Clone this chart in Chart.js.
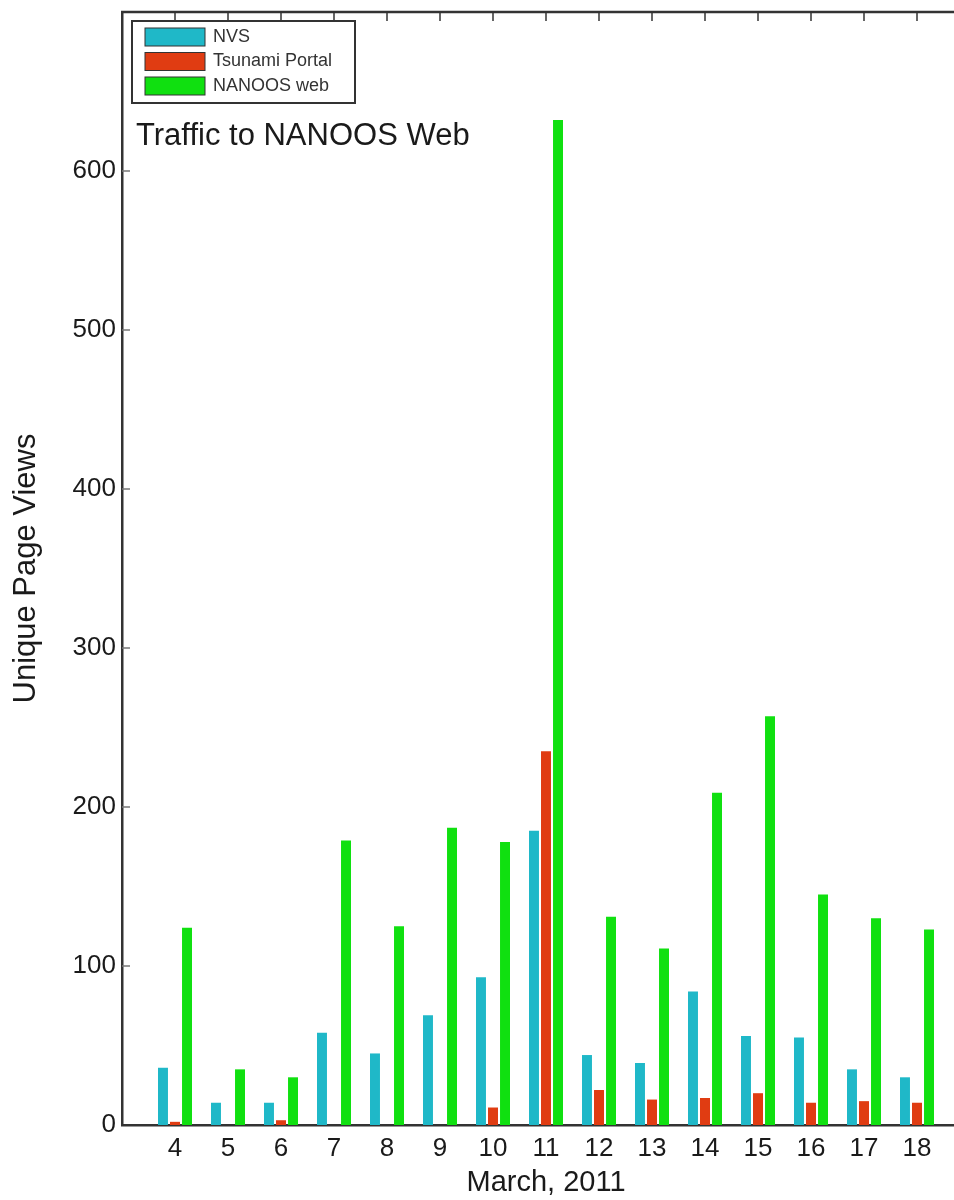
<!DOCTYPE html>
<html>
<head>
<meta charset="utf-8">
<script src="https://cdn.jsdelivr.net/npm/chart.js@4.4.1/dist/chart.umd.min.js"></script>
<style>
html,body{margin:0;padding:0;background:#fff;overflow:hidden;width:954px;height:1200px}
#wrap{position:absolute;left:0;top:0;width:1000px;height:1200px}
</style>
</head>
<body>
<div id="wrap"><canvas id="c"></canvas></div>
<script>
// ---- data ----
const days = [4,5,6,7,8,9,10,11,12,13,14,15,16,17,18];
const dayLabels = ['4','5','6','7','8','9','10','11','12','13','14','15','16','17','18'];
const nvs     = [36,14,14,58,45,69,93,185,44,39,84,56,55,35,30];
const tsunami = [2,0,3,0,0,0,11,235,22,16,17,20,14,15,14];
const nanoos  = [124,35,30,179,125,187,178,632,131,111,209,257,145,130,123];
const yTickValues = [0,100,200,300,400,500,600];
const seriesNames = ['NVS','Tsunami Portal','NANOOS web'];
const noteText = 'Traffic to NANOOS Web';
const xTitle = 'March, 2011';
const yTitle = 'Unique Page Views';

const FONT = '"Liberation Sans", Arial, Helvetica, sans-serif';
const colors = ['#1fb8c8','#e03c12','#10e010'];

const toPoints = arr => arr.map((v,i)=>({x:days[i], y:v}));

const framePlugin = {
  id:'frame',
  afterDraw(chart){
    const {ctx, chartArea:a, scales:{x,y}} = chart;
    ctx.save();
    // top border
    ctx.strokeStyle='#333';
    ctx.lineWidth=2.5;
    ctx.beginPath(); ctx.moveTo(a.left-1,a.top); ctx.lineTo(a.right,a.top); ctx.stroke();
    // top inward ticks
    ctx.lineWidth=1.5;
    days.forEach(d=>{
      const px=x.getPixelForValue(d);
      ctx.beginPath(); ctx.moveTo(px,a.top); ctx.lineTo(px,a.top+9); ctx.stroke();
    });
    // y inward ticks
    ctx.strokeStyle='#777';
    yTickValues.forEach(v=>{
      if(v===0) return;
      const py=y.getPixelForValue(v);
      ctx.beginPath(); ctx.moveTo(a.left,py); ctx.lineTo(a.left+8,py); ctx.stroke();
    });
    // annotation text
    ctx.fillStyle='#1a1a1a';
    ctx.font='31px '+FONT;
    ctx.textBaseline='alphabetic';
    ctx.textAlign='left';
    ctx.fillText(noteText, a.left+14, a.top+133);
    // legend
    const lx=a.left+10, ly=a.top+9, lw=223, lh=82;
    ctx.fillStyle='#fff';
    ctx.fillRect(lx,ly,lw,lh);
    ctx.strokeStyle='#333';
    ctx.lineWidth=2;
    ctx.strokeRect(lx,ly,lw,lh);
    chart.data.datasets.forEach((ds,i)=>{
      const cy=ly+16+i*24.5;
      ctx.fillStyle=ds.backgroundColor;
      ctx.fillRect(lx+13,cy-9,60,18);
      ctx.lineWidth=1;
      ctx.strokeStyle='#333';
      ctx.strokeRect(lx+13,cy-9,60,18);
      ctx.fillStyle='#333';
      ctx.font='18px '+FONT;
      ctx.textBaseline='middle';
      ctx.fillText(ds.label, lx+81, cy);
    });
    ctx.restore();
  }
};

new Chart(document.getElementById('c'), {
  type:'bar',
  data:{
    datasets:[
      {label:seriesNames[0], data:toPoints(nvs), backgroundColor:colors[0]},
      {label:seriesNames[1], data:toPoints(tsunami), backgroundColor:colors[1]},
      {label:seriesNames[2], data:toPoints(nanoos), backgroundColor:colors[2]}
    ]
  },
  options:{
    responsive:true,
    maintainAspectRatio:false,
    animation:false,
    layout:{padding:{top:12,right:30,left:0,bottom:0}},
    datasets:{bar:{categoryPercentage:0.68, barPercentage:0.83}},
    plugins:{legend:{display:false}, tooltip:{enabled:false}},
    scales:{
      x:{
        type:'linear', min:3, max:19, offset:false,
        grid:{display:false, drawTicks:false},
        border:{display:true, color:'#333', width:2.5},
        ticks:{
          stepSize:1, autoSkip:false, padding:8, color:'#1a1a1a',
          font:{family:FONT, size:26},
          maxRotation:0,
          callback:(v)=>{const i=days.indexOf(v); return i>=0?dayLabels[i]:'';}
        },
        title:{display:true, text:xTitle, color:'#1a1a1a', font:{family:FONT, size:29}, padding:{top:0,bottom:0}},
        afterFit:(s)=>{s.height=75;}
      },
      y:{
        min:0, max:700,
        grid:{display:false, drawTicks:false},
        border:{display:true, color:'#333', width:2.5},
        ticks:{
          stepSize:100, padding:6, color:'#1a1a1a',
          font:{family:FONT, size:26, lineHeight:0.4},
          callback:(v)=> yTickValues.includes(v)? String(v) : ''
        },
        title:{display:true, text:yTitle, color:'#1a1a1a', font:{family:FONT, size:31}, padding:{top:8,bottom:0}},
        afterFit:(s)=>{s.width=122;}
      }
    }
  },
  plugins:[framePlugin]
});
</script>
</body>
</html>
